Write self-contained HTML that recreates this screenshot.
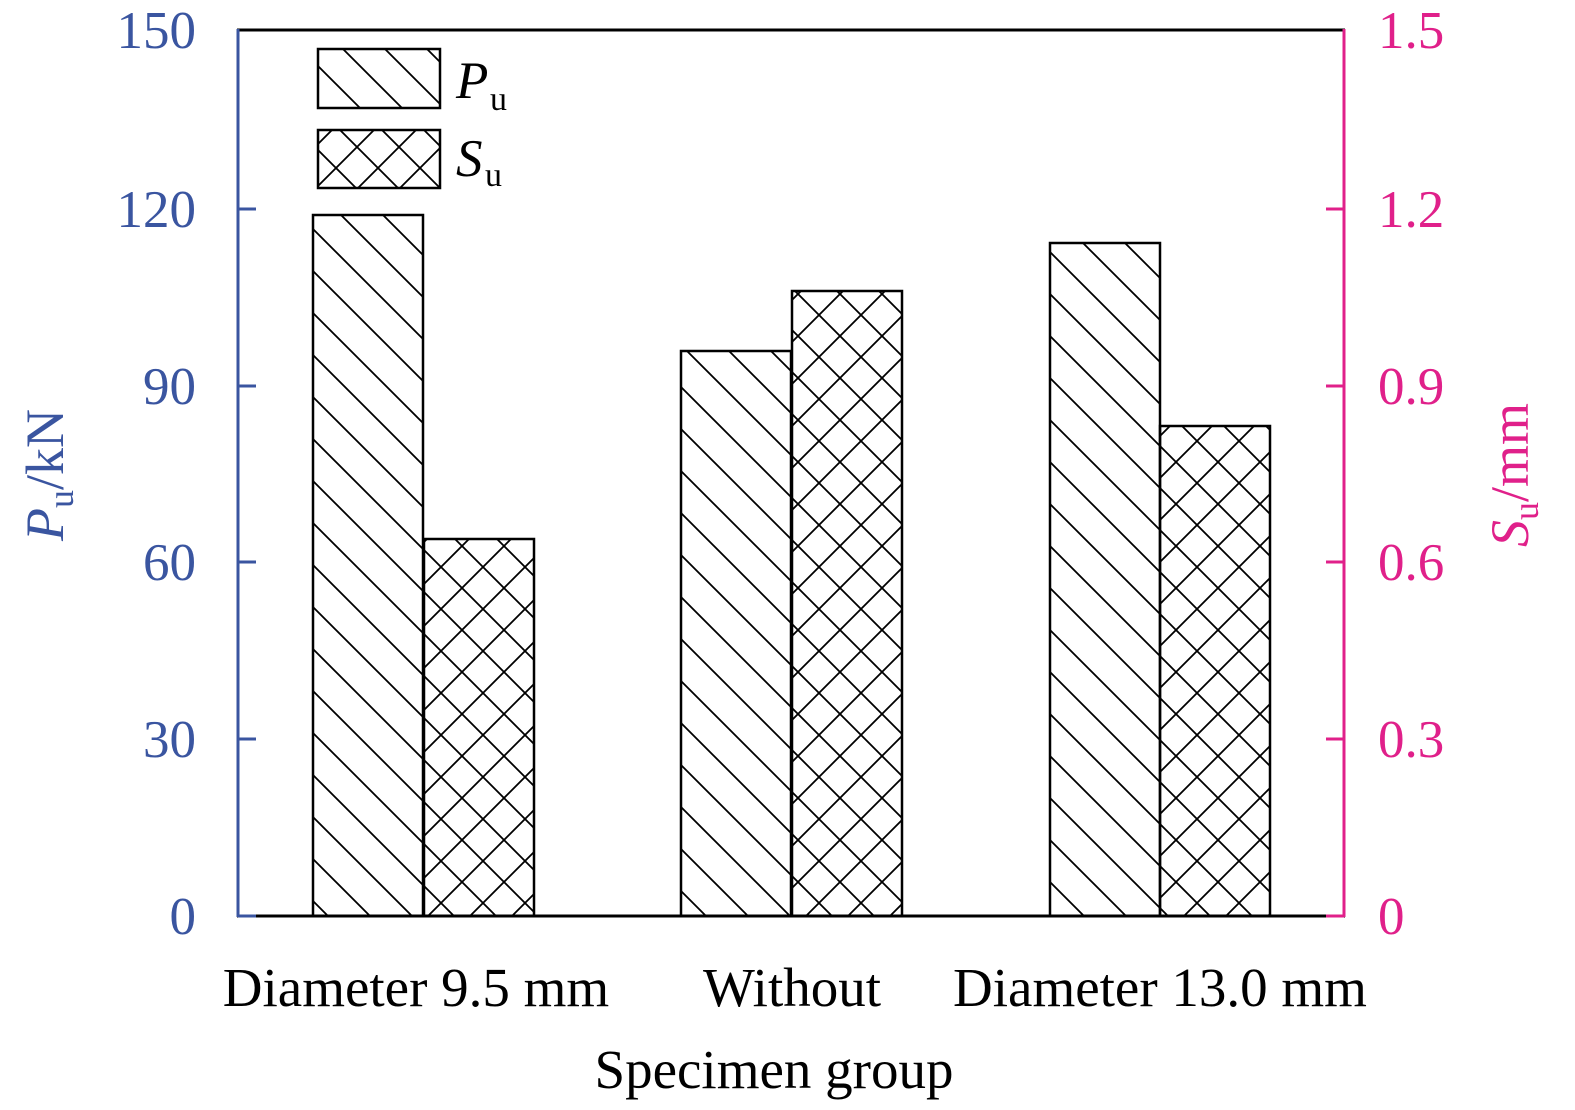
<!DOCTYPE html>
<html><head><style>body{margin:0;background:#fff}svg{display:block}</style></head><body>
<svg width="1575" height="1110" xmlns="http://www.w3.org/2000/svg" font-family="Liberation Serif, serif">
<defs>
<pattern id="d" patternUnits="userSpaceOnUse" width="42" height="42">
<path d="M-10,-10 L52,52 M-52,-10 L10,52 M32,-10 L94,52" stroke="#000" stroke-width="1.8"/>
</pattern>
<pattern id="x" patternUnits="userSpaceOnUse" width="42" height="42">
<path d="M-10,-10 L52,52 M-52,-10 L10,52 M32,-10 L94,52 M-10,52 L52,-10 M-52,52 L10,-10 M32,52 L94,-10" stroke="#000" stroke-width="1.8"/>
</pattern>
</defs>
<g stroke="#000" stroke-width="2.5">
<rect x="313" y="215" width="110" height="701" fill="url(#d)"/>
<rect x="424" y="539" width="110" height="377" fill="url(#x)"/>
<rect x="681" y="351" width="110" height="565" fill="url(#d)"/>
<rect x="792" y="291" width="110" height="625" fill="url(#x)"/>
<rect x="1050" y="243" width="110" height="673" fill="url(#d)"/>
<rect x="1160" y="426" width="110" height="490" fill="url(#x)"/>
<rect x="318" y="49" width="122" height="59" fill="url(#d)"/>
<rect x="318" y="130" width="122" height="58" fill="url(#x)"/>
</g>
<line x1="237" y1="30" x2="1345" y2="30" stroke="#000" stroke-width="3"/>
<line x1="237" y1="916" x2="1345" y2="916" stroke="#000" stroke-width="3"/>
<g stroke="#3a55a0" stroke-width="3">
<line x1="238" y1="29" x2="238" y2="917"/>
<line x1="238" y1="209" x2="256" y2="209"/>
<line x1="238" y1="386" x2="256" y2="386"/>
<line x1="238" y1="562" x2="256" y2="562"/>
<line x1="238" y1="739" x2="256" y2="739"/>
<line x1="238" y1="916" x2="256" y2="916"/>
</g>
<g stroke="#e0208a" stroke-width="3">
<line x1="1344" y1="29" x2="1344" y2="917"/>
<line x1="1326" y1="209" x2="1344" y2="209"/>
<line x1="1326" y1="386" x2="1344" y2="386"/>
<line x1="1326" y1="562" x2="1344" y2="562"/>
<line x1="1326" y1="739" x2="1344" y2="739"/>
<line x1="1326" y1="916" x2="1344" y2="916"/>
</g>
<g fill="#3a55a0" font-size="53" text-anchor="end">
<text x="196" y="48">150</text><text x="196" y="227">120</text><text x="196" y="404">90</text>
<text x="196" y="580">60</text><text x="196" y="757">30</text><text x="196" y="934">0</text>
</g>
<g fill="#e0208a" font-size="53">
<text x="1378" y="48">1.5</text><text x="1378" y="227">1.2</text><text x="1378" y="404">0.9</text>
<text x="1378" y="580">0.6</text><text x="1378" y="757">0.3</text><text x="1378" y="934">0</text>
</g>
<text transform="translate(63,475) rotate(-90)" text-anchor="middle" fill="#3a55a0" font-size="54"><tspan font-style="italic">P</tspan><tspan font-size="36" dy="10">u</tspan><tspan dy="-10">/kN</tspan></text>
<text transform="translate(1528,475) rotate(-90)" text-anchor="middle" fill="#e0208a" font-size="54"><tspan font-style="italic">S</tspan><tspan font-size="36" dy="10">u</tspan><tspan dy="-10">/mm</tspan></text>
<g font-size="55" text-anchor="middle" fill="#000">
<text x="416" y="1006">Diameter 9.5 mm</text>
<text x="792" y="1006">Without</text>
<text x="1160" y="1006">Diameter 13.0 mm</text>
<text x="774" y="1088">Specimen group</text>
</g>
<text x="456" y="98" font-size="53" font-style="italic">P</text><text x="490" y="110" font-size="34">u</text>
<text x="456" y="176" font-size="53" font-style="italic">S</text><text x="485" y="186" font-size="34">u</text>
</svg>
</body></html>
